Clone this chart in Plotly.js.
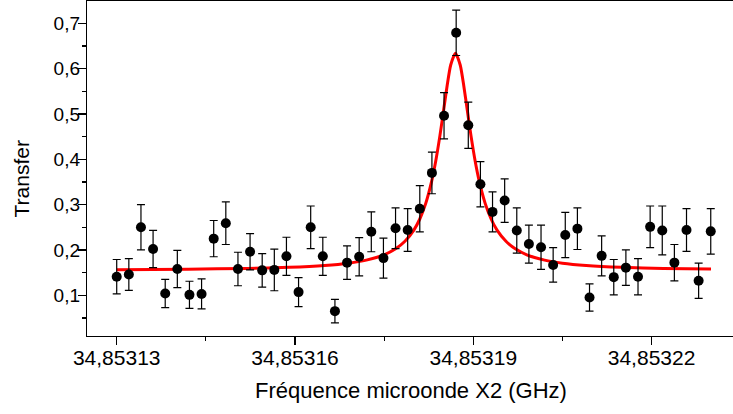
<!DOCTYPE html>
<html>
<head>
<meta charset="utf-8">
<script src="https://cdn.plot.ly/plotly-3.0.1.min.js"></script>
<style>
html, body { margin: 0; padding: 0; overflow: hidden; background: #fff; }
#chart { width: 736px; height: 414px; }
</style>
</head>
<body>
<div id="chart"></div>
<script>
// Measured data: microwave frequency (GHz), transfer, and error bars
const freq = [
  34.85313000, 34.85313204, 34.85313408, 34.85313612, 34.85313816,
  34.85314020, 34.85314224, 34.85314428, 34.85314632, 34.85314836,
  34.85315040, 34.85315244, 34.85315448, 34.85315652, 34.85315856,
  34.85316060, 34.85316264, 34.85316468, 34.85316672, 34.85316876,
  34.85317080, 34.85317284, 34.85317488, 34.85317692, 34.85317896,
  34.85318100, 34.85318304, 34.85318508, 34.85318712, 34.85318916,
  34.85319120, 34.85319324, 34.85319528, 34.85319732, 34.85319936,
  34.85320140, 34.85320344, 34.85320548, 34.85320752, 34.85320956,
  34.85321160, 34.85321364, 34.85321568, 34.85321772, 34.85321976,
  34.85322180, 34.85322384, 34.85322588, 34.85322792, 34.85322996
];
const transfer = [
  0.141, 0.146, 0.250, 0.202, 0.104, 0.158, 0.101, 0.103, 0.225, 0.259,
  0.158, 0.196, 0.155, 0.156, 0.186, 0.107, 0.250, 0.186, 0.065, 0.172,
  0.185, 0.240, 0.182, 0.248, 0.244, 0.291, 0.370, 0.496, 0.679, 0.475,
  0.345, 0.284, 0.309, 0.243, 0.213, 0.206, 0.167, 0.233, 0.247, 0.095,
  0.187, 0.140, 0.161, 0.141, 0.251, 0.243, 0.172, 0.244, 0.132, 0.241
];
const transferErr = [
  0.038, 0.035, 0.050, 0.041, 0.031, 0.041, 0.030, 0.033, 0.040, 0.047,
  0.037, 0.040, 0.037, 0.046, 0.042, 0.032, 0.047, 0.042, 0.026, 0.037,
  0.042, 0.044, 0.044, 0.045, 0.047, 0.051, 0.046, 0.051, 0.050, 0.051,
  0.050, 0.044, 0.048, 0.050, 0.042, 0.049, 0.038, 0.050, 0.046, 0.030,
  0.044, 0.039, 0.039, 0.040, 0.046, 0.054, 0.040, 0.047, 0.039, 0.050
];

// Fit curve (red)
const fitX = [
  34.853130, 34.853142, 34.853152, 34.853159, 34.853165, 34.853169,
  34.853172, 34.853175, 34.853177, 34.8531785, 34.853180, 34.853181,
  34.853182, 34.853183, 34.8531837, 34.8531844, 34.853185, 34.8531856,
  34.8531862, 34.853187, 34.8531878, 34.8531884, 34.853189, 34.8531896,
  34.8531903, 34.853191, 34.853192, 34.853193, 34.853194, 34.8531955,
  34.853197, 34.853199, 34.853202, 34.853205, 34.853209, 34.853215,
  34.853222, 34.853230
];
const fitY = [
  0.1566, 0.1576, 0.1593, 0.1617, 0.1658, 0.1709,
  0.1776, 0.1894, 0.2031, 0.2191, 0.2439, 0.2683,
  0.3028, 0.3518, 0.3974, 0.4533, 0.5076, 0.5624,
  0.6080, 0.6340, 0.6080, 0.5624, 0.5076, 0.4533,
  0.3974, 0.3518, 0.3028, 0.2683, 0.2439, 0.2191,
  0.2031, 0.1894, 0.1776, 0.1709, 0.1658, 0.1617,
  0.1593, 0.1579
];

const xTitle = 'Fréquence microonde X2 (GHz)';
const yTitle = 'Transfer';

const FONT = 'Liberation Sans, Arial, sans-serif';

const traces = [
  {
    x: fitX, y: fitY, type: 'scatter', mode: 'lines',
    line: { color: '#ff0000', width: 3, shape: 'spline', smoothing: 0.6 },
    hoverinfo: 'skip', showlegend: false
  },
  {
    x: freq, y: transfer, type: 'scatter', mode: 'markers',
    marker: { color: '#000000', size: 10 },
    error_y: { type: 'data', array: transferErr, visible: true, color: '#000000', thickness: 1.2, width: 4 },
    showlegend: false
  }
];

const xr = [34.853125, 34.85323404];
const yr = [0.0102, 0.7492];

const layout = {
  width: 736, height: 414,
  margin: { l: 87, r: 1, t: 1, b: 78, pad: 0 },
  paper_bgcolor: '#ffffff', plot_bgcolor: '#ffffff',
  separators: ', ',
  font: { family: FONT, size: 21, color: '#000' },
  showlegend: false,
  xaxis: {
    range: xr, autorange: false,
    showgrid: false, zeroline: false,
    showline: true, linecolor: '#000', linewidth: 1.2, mirror: true,
    ticks: 'outside', ticklen: 8, tickwidth: 1.2, tickcolor: '#000',
    tick0: 34.85313, dtick: 0.00003, tickformat: '.5f',
    ticklabelstandoff: -5,
    tickfont: { family: FONT, size: 21, color: '#000' },
    minor: { ticks: 'outside', ticklen: 4, tickwidth: 1.2, tickcolor: '#000', dtick: 0.000015, tick0: 34.85313, showgrid: false },
    title: { text: xTitle, font: { family: FONT, size: 22, color: '#000' }, standoff: 14 }
  },
  yaxis: {
    range: yr, autorange: false,
    showgrid: false, zeroline: false,
    showline: true, linecolor: '#000', linewidth: 1.2, mirror: true,
    ticks: 'outside', ticklen: 8, tickwidth: 1.2, tickcolor: '#000',
    tick0: 0, dtick: 0.1, tickformat: '.1f',
    ticklabelstandoff: -6,
    tickfont: { family: FONT, size: 19, color: '#000' },
    minor: { ticks: 'outside', ticklen: 4, tickwidth: 1.2, tickcolor: '#000', dtick: 0.05, tick0: 0, showgrid: false }
  },
  xaxis2: {
    overlaying: 'x', side: 'top', matches: 'x', range: xr, autorange: false,
    showgrid: false, zeroline: false, showline: false, showticklabels: false,
    ticks: 'inside', ticklen: 7, tickwidth: 1.2, tickcolor: '#000',
    tick0: 34.85313, dtick: 0.000015
  },
  yaxis2: {
    overlaying: 'y', side: 'right', matches: 'y', range: yr, autorange: false,
    showgrid: false, zeroline: false, showline: false, showticklabels: false,
    ticks: 'inside', ticklen: 4, tickwidth: 1.2, tickcolor: '#000',
    tick0: 0, dtick: 0.1
  },
  annotations: [
    {
      text: yTitle, textangle: -90, showarrow: false,
      xref: 'paper', yref: 'paper',
      x: (21.5 - 87) / 648, y: (336 - 179) / 335,
      xanchor: 'center', yanchor: 'middle',
      font: { family: FONT, size: 21, color: '#000' }
    }
  ]
};

Plotly.newPlot('chart', traces, layout, { displayModeBar: false, staticPlot: true });
</script>
</body>
</html>
